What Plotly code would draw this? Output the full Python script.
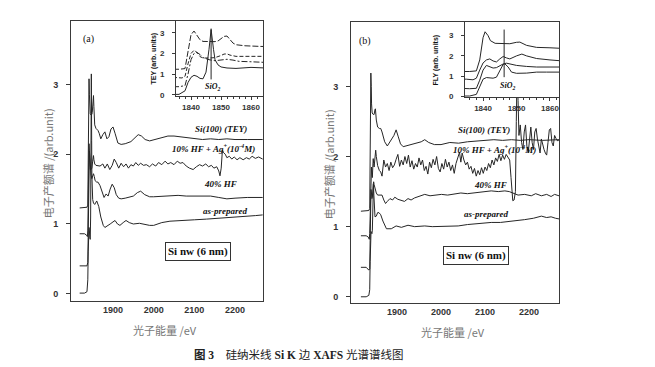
import plotly.graph_objects as go

# ---------------- data: (photon energy eV, yield arb. units) ----------------
# Panel (a) TEY
A_SI100 = [(1818,1.23),(1830,1.23),(1836,1.24),(1838,1.27),(1839,2.0),(1840,2.9),(1841,3.08),(1842,2.85),(1843,2.66),(1844,2.58),(1846,2.56),(1848,2.57),(1849,2.6),(1850,2.72),(1851,2.82),(1852,2.84),(1853,2.68),(1854,2.5),(1855,2.42),(1858,2.37),(1863,2.34),(1866,2.3),(1870,2.22),(1875,2.28),(1880,2.32),(1885,2.22),(1890,2.25),(1895,2.36),(1900,2.39),(1905,2.3),(1912,2.16),(1920,2.14),(1930,2.15),(1944,2.18),(1955,2.24),(1962,2.28),(1970,2.26),(1979,2.21),(1990,2.19),(2003,2.21),(2015,2.22),(2025,2.24),(2035,2.26),(2050,2.26),(2065,2.25),(2080,2.23),(2100,2.22),(2120,2.21),(2140,2.22),(2160,2.21),(2180,2.22),(2200,2.21),(2230,2.21),(2268,2.21)]
A_HF10 = [(1818,0.86),(1830,0.86),(1835,0.84),(1837,0.82),(1838,0.9),(1839,1.5),(1840,2.0),(1841,2.15),(1842,2.05),(1843,1.85),(1844,1.78),(1846,1.78),(1848,1.8),(1850,1.9),(1851,1.97),(1852,1.98),(1853,1.92),(1855,1.86),(1858,1.84),(1863,1.84),(1868,1.83),(1875,1.86),(1880,1.8),(1886,1.86),(1892,1.78),(1898,1.84),(1903,1.93),(1908,1.88),(1914,1.8),(1920,1.87),(1926,1.82),(1932,1.86),(1938,1.8),(1944,1.85),(1950,1.83),(1956,1.88),(1962,1.84),(1968,1.87),(1975,1.84),(1982,1.85),(1990,1.82),(1997,1.86),(2005,1.83),(2012,1.88),(2020,1.85),(2028,1.9),(2035,1.86),(2042,1.88),(2050,1.85),(2058,1.9),(2065,1.87),(2072,1.88),(2080,1.83),(2088,1.8),(2097,1.78),(2105,1.82),(2113,1.85),(2120,1.83),(2128,1.86),(2135,1.82),(2142,1.84),(2148,1.8),(2155,1.82),(2160,1.76),(2163,1.69),(2166,1.8),(2169,2.06),(2172,2.02),(2176,2.0),(2180,1.95),(2186,1.97),(2192,1.93),(2198,1.96),(2205,1.92),(2212,1.95),(2220,1.92),(2228,1.95),(2235,1.93),(2242,1.97),(2250,1.94),(2258,1.96),(2268,1.93)]
A_HF40 = [(1818,0.4),(1830,0.4),(1836,0.4),(1838,0.45),(1839,1.0),(1840,1.7),(1841,2.0),(1842,2.05),(1843,1.95),(1844,1.8),(1846,1.7),(1848,1.65),(1850,1.68),(1852,1.72),(1854,1.68),(1856,1.62),(1860,1.6),(1863,1.6),(1868,1.55),(1873,1.45),(1878,1.38),(1883,1.43),(1888,1.4),(1893,1.5),(1898,1.57),(1903,1.52),(1908,1.42),(1914,1.37),(1920,1.36),(1930,1.37),(1940,1.38),(1950,1.4),(1960,1.45),(1968,1.47),(1978,1.42),(1990,1.39),(2000,1.39),(2020,1.4),(2040,1.41),(2060,1.41),(2080,1.4),(2100,1.4),(2120,1.41),(2140,1.4),(2160,1.38),(2180,1.36),(2200,1.37),(2230,1.38),(2268,1.38)]
A_ASP = [(1818,0.01),(1830,0.01),(1836,0.03),(1838,0.2),(1839,0.6),(1840,0.85),(1841,0.95),(1842,0.9),(1843,0.8),(1844,0.78),(1845,1.1),(1846,2.2),(1846.7,3.15),(1847.5,2.2),(1848,1.7),(1849,1.45),(1850,1.35),(1852,1.3),(1855,1.28),(1860,1.33),(1865,1.25),(1870,1.1),(1876,0.98),(1880,0.95),(1886,0.97),(1893,1.0),(1900,1.03),(1905,1.05),(1911,1.0),(1917,0.98),(1925,1.02),(1932,1.05),(1940,1.02),(1950,1.0),(1965,1.01),(1980,0.99),(1990,0.98),(2000,0.98),(2020,1.02),(2040,1.04),(2060,1.05),(2080,1.06),(2100,1.06),(2130,1.07),(2160,1.08),(2190,1.09),(2220,1.1),(2250,1.12),(2268,1.13)]

# Panel (b) FLY
B_SI100 = [(1818,1.22),(1830,1.22),(1836,1.23),(1838,1.26),(1839,1.8),(1840,2.9),(1840.6,3.19),(1841.5,3.0),(1842.2,2.75),(1843.6,2.62),(1846,2.6),(1848,2.6),(1850,2.67),(1851,2.68),(1853,2.52),(1856,2.42),(1860,2.4),(1863,2.4),(1866,2.35),(1872,2.21),(1878,2.15),(1884,2.2),(1888,2.25),(1893,2.3),(1898,2.38),(1903,2.28),(1908,2.18),(1914,2.14),(1925,2.16),(1940,2.18),(1955,2.21),(1963,2.24),(1972,2.2),(1985,2.17),(2000,2.17),(2020,2.2),(2040,2.19),(2060,2.21),(2080,2.22),(2100,2.23),(2120,2.24),(2140,2.23),(2160,2.24),(2180,2.23),(2200,2.24),(2230,2.23),(2268,2.24)]
B_HF10 = [(1818,0.87),(1830,0.87),(1835,0.85),(1837,0.82),(1838,0.9),(1839,1.3),(1840,1.65),(1841,1.8),(1842,1.85),(1843,1.75),(1844,1.7),(1845,1.85),(1846,1.97),(1847,1.9),(1848,1.85),(1850,2.0),(1851.6,2.09),(1853,2.0),(1856,1.87),(1860,1.8),(1863,1.78),(1866,1.72),(1870,1.95),(1874,1.85),(1878,1.9),(1882,1.8),(1886,1.92),(1890,1.84),(1894,1.88),(1898,1.96),(1902,2.03),(1906,1.86),(1910,1.95),(1914,1.88),(1918,2.0),(1922,1.9),(1926,2.02),(1930,1.85),(1934,1.94),(1938,1.82),(1942,1.9),(1946,1.85),(1950,1.98),(1954,1.88),(1958,1.95),(1962,1.8),(1966,1.86),(1970,1.75),(1974,1.92),(1978,1.84),(1982,1.96),(1986,1.88),(1990,2.0),(1994,1.83),(1998,1.78),(2002,1.9),(2006,1.82),(2010,1.96),(2014,1.85),(2018,1.92),(2022,1.8),(2026,1.88),(2030,1.76),(2034,1.9),(2038,2.0),(2042,2.06),(2045,1.92),(2048,2.05),(2052,1.95),(2056,1.88),(2060,1.92),(2064,1.82),(2068,1.86),(2072,1.76),(2076,1.83),(2080,1.72),(2084,1.8),(2088,1.74),(2092,1.84),(2096,1.76),(2100,1.85),(2104,1.8),(2108,1.9),(2112,1.84),(2116,1.95),(2120,1.88),(2124,1.98),(2128,1.93),(2132,2.03),(2136,1.94),(2140,2.02),(2144,1.96),(2148,2.03),(2152,1.98),(2156,1.95),(2159,1.7),(2161,1.45),(2163,1.37),(2166,1.38),(2169,1.5),(2171,2.5),(2173,3.3),(2175,2.8),(2177,2.3),(2180,2.45),(2183,2.2),(2186,2.1),(2189,2.35),(2192,2.45),(2195,2.15),(2198,2.05),(2201,2.3),(2204,2.42),(2207,2.2),(2210,2.1),(2213,2.35),(2216,2.4),(2219,2.25),(2222,2.12),(2225,2.05),(2228,2.25),(2231,2.15),(2234,2.1),(2237,2.05),(2240,2.02),(2243,2.2),(2246,2.38),(2249,2.4),(2252,2.2),(2255,2.15),(2258,2.3),(2261,2.26),(2265,2.22),(2268,2.24)]
B_HF40 = [(1818,0.42),(1830,0.42),(1836,0.38),(1838,0.4),(1839,0.8),(1840,1.3),(1841,1.53),(1842,1.48),(1843,1.4),(1844,1.42),(1846,1.6),(1847,1.64),(1848,1.6),(1850,1.53),(1853,1.48),(1856,1.45),(1860,1.45),(1863,1.45),(1866,1.45),(1870,1.38),(1874,1.33),(1878,1.36),(1884,1.4),(1890,1.38),(1895,1.42),(1902,1.39),(1910,1.37),(1917,1.36),(1925,1.4),(1932,1.38),(1940,1.41),(1950,1.43),(1963,1.46),(1975,1.44),(1990,1.45),(2001,1.46),(2015,1.45),(2030,1.47),(2045,1.48),(2060,1.47),(2077,1.48),(2095,1.49),(2114,1.51),(2130,1.5),(2145,1.51),(2155,1.5),(2165,1.47),(2175,1.45),(2190,1.46),(2205,1.44),(2215,1.47),(2228,1.44),(2240,1.46),(2250,1.43),(2258,1.46),(2268,1.44)]
B_ASP = [(1818,0.0),(1830,0.0),(1836,0.02),(1838,0.1),(1839,0.5),(1840,0.85),(1841,0.93),(1842,0.92),(1843,0.9),(1844,0.95),(1845,1.3),(1846,1.58),(1846.5,1.61),(1847.5,1.45),(1848.5,1.2),(1850,1.14),(1853,1.15),(1856,1.2),(1859,1.2),(1863,1.17),(1868,1.08),(1876,0.97),(1887,0.97),(1898,1.01),(1910,0.99),(1925,1.02),(1940,1.0),(1963,1.01),(1980,1.0),(2001,1.0),(2020,1.0),(2039,1.01),(2060,1.03),(2077,1.04),(2095,1.05),(2114,1.06),(2135,1.06),(2152,1.07),(2170,1.08),(2190,1.1),(2210,1.12),(2228,1.15),(2240,1.13),(2250,1.14),(2260,1.12),(2268,1.11)]

MAIN_XTICKS = [1900, 2000, 2100, 2200]
MAIN_YTICKS = [0, 1, 2, 3]
INSET_XTICKS = [1840, 1850, 1860]
INSET_YTICKS = [0, 1, 2, 3]
SIO2_E_A = 1846.7
SIO2_E_B = 1846.3

INK = "#262626"
AX = "#3a3a3a"
W, H = 655, 367

fig = go.Figure()

def add(pairs, xa, ya, dash="solid", width=1.0):
    fig.add_trace(go.Scatter(
        x=[p[0] for p in pairs], y=[p[1] for p in pairs], mode="lines",
        xaxis=xa, yaxis=ya, line=dict(color=INK, width=width, dash=dash),
        showlegend=False, hoverinfo="skip"))

# main (a)
for s in (A_SI100, A_HF10, A_HF40, A_ASP):
    add(s, "x", "y")
# inset (a)
for s, d in ((A_SI100, "6px,2px"), (A_HF10, "4px,2px"), (A_HF40, "6px,2px,2px,2px"), (A_ASP, "solid")):
    add(s, "x2", "y2", dash=d)
# main (b)
for s in (B_SI100, B_HF10, B_HF40, B_ASP):
    add(s, "x3", "y3")
# inset (b)
for s in (B_SI100, B_HF10, B_HF40, B_ASP):
    add(s, "x4", "y4")

def dx(a, b): return [a / W, b / W]
def dy(top, bot): return [1 - bot / H, 1 - top / H]

tickf_main = dict(family="Liberation Sans", size=9, color="#333", weight="bold")
tickf_in = dict(family="Liberation Sans", size=8, color="#333", weight="bold")

def xmain(dom, rng, anchor):
    return dict(domain=dom, range=rng, anchor=anchor, showline=True, linecolor=AX, linewidth=1,
                mirror=True, ticks="", tickvals=MAIN_XTICKS, tickfont=tickf_main,
                ticklabelstandoff=0, showgrid=False, zeroline=False, fixedrange=True)

def ymain(dom, rng, anchor):
    return dict(domain=dom, range=rng, anchor=anchor, showline=True, linecolor=AX, linewidth=1,
                mirror=True, ticks="outside", ticklen=4, tickcolor=AX, tickvals=MAIN_YTICKS,
                tickfont=tickf_main, ticklabelstandoff=6, showgrid=False, zeroline=False)

def xin(dom, rng, anchor):
    return dict(domain=dom, range=rng, anchor=anchor, showline=True, linecolor=AX, linewidth=1,
                mirror=True, ticks="outside", ticklen=3, tickcolor=AX, tickvals=INSET_XTICKS,
                minor=dict(dtick=2, tick0=1840, ticks="outside", ticklen=2, tickcolor=AX),
                tickfont=tickf_in, ticklabelstandoff=0, showgrid=False, zeroline=False)

def yin(dom, rng, anchor):
    return dict(domain=dom, range=rng, anchor=anchor, showline=True, linecolor=AX, linewidth=1,
                mirror=True, ticks="outside", ticklen=3, tickcolor=AX, tickvals=INSET_YTICKS,
                tickfont=tickf_in, ticklabelstandoff=6, showgrid=False, zeroline=False)

fig.update_layout(
    width=W, height=H, margin=dict(l=0, r=0, t=0, b=0),
    paper_bgcolor="white", plot_bgcolor="white",
    xaxis=xmain(dx(63, 255), [1796.7, 2268.8], "y"),
    yaxis=ymain(dy(13, 296), [-0.1, 3.91], "x"),
    xaxis2=xin(dx(168, 255), [1835, 1864], "y2"),
    yaxis2=yin(dy(13, 89), [-0.05, 3.57], "x2"),
    xaxis3=xmain(dx(343, 551), [1795.5, 2268], "y3"),
    yaxis3=ymain(dy(14, 298), [-0.085, 3.92], "x3"),
    xaxis4=xin(dx(457, 551), [1834.6, 1862.7], "y4"),
    yaxis4=yin(dy(14, 90), [-0.03, 3.68], "x4"),
)

shapes = [
    dict(type="line", xref="x2", yref="y2", x0=SIO2_E_A, x1=SIO2_E_A, y0=0.75, y1=3.2,
         line=dict(color=INK, width=1)),
    dict(type="line", xref="x4", yref="y4", x0=SIO2_E_B, x1=SIO2_E_B, y0=0.95, y1=3.3,
         line=dict(color=INK, width=1)),
]
fig.update_layout(shapes=shapes)

anns = []
def ann(text, px, py, size=9, family="Liberation Serif", color="#111", angle=0,
        weight="normal", style="normal", **kw):
    anns.append(dict(text=text, x=px / W, y=1 - py / H, xref="paper", yref="paper",
                     showarrow=False, xanchor="center", yanchor="middle", textangle=angle,
                     font=dict(family=family, size=size, color=color, weight=weight, style=style),
                     **kw))

LBL = dict(size=9, weight="bold", style="italic")
# panel (a)
ann("(a)", 80, 31, size=10)
ann("Si(100) (TEY)", 213, 122, **LBL)
ann("10% HF + Ag<sup>+</sup>(10<sup>-4</sup>M)", 205, 142, **LBL)
ann("40% HF", 212, 178, **LBL)
ann("as-prepared", 217, 205, **LBL)
ann("SiO<sub>2</sub>", 204, 80, size=8, weight="bold", style="italic")
ann("Si nw (6 nm)", 190, 246, size=11, weight="bold", bordercolor="#333", borderwidth=1,
    borderpad=2, bgcolor="white")
ann("TEY (arb. units)", 146, 51, size=7, family="Liberation Sans", weight="bold", angle=-90)
ann("电子产额谱 /(arb.unit)", 40, 157, size=11, family="Noto Sans CJK SC", color="#777", angle=-90)
ann("光子能量 /eV", 157, 326, size=11, family="Noto Sans CJK SC", color="#777")
# panel (b)
ann("(b)", 357, 33, size=10)
ann("Si(100) (TEY)", 476, 123, **LBL)
ann("10% HF + Ag<sup>+</sup>(10<sup>-4</sup>M)", 486, 143, **LBL)
ann("40% HF", 482, 179, **LBL)
ann("as-prepared", 478, 208, **LBL)
ann("SiO<sub>2</sub>", 499, 79, size=8, weight="bold", style="italic")
ann("Si nw (6 nm)", 468, 250, size=11, weight="bold", bordercolor="#333", borderwidth=1,
    borderpad=2, bgcolor="white")
ann("FLY (arb. units)", 428, 52, size=7, family="Liberation Sans", weight="bold", angle=-90)
ann("电子产额谱 /(arb.unit)", 321, 158, size=11, family="Noto Sans CJK SC", color="#777", angle=-90)
ann("光子能量 /eV", 445, 328, size=11, family="Noto Sans CJK SC", color="#777")
# caption
ann("<b>图 3</b>\u00a0\u00a0\u00a0\u00a0硅纳米线 <b>Si K</b> 边 <b>XAFS</b> 光谱谱线图", 291, 350, size=11.5,
    family="Liberation Serif, Noto Sans CJK SC", color="#222")

fig.update_layout(annotations=anns)
fig.write_html("out.html")
